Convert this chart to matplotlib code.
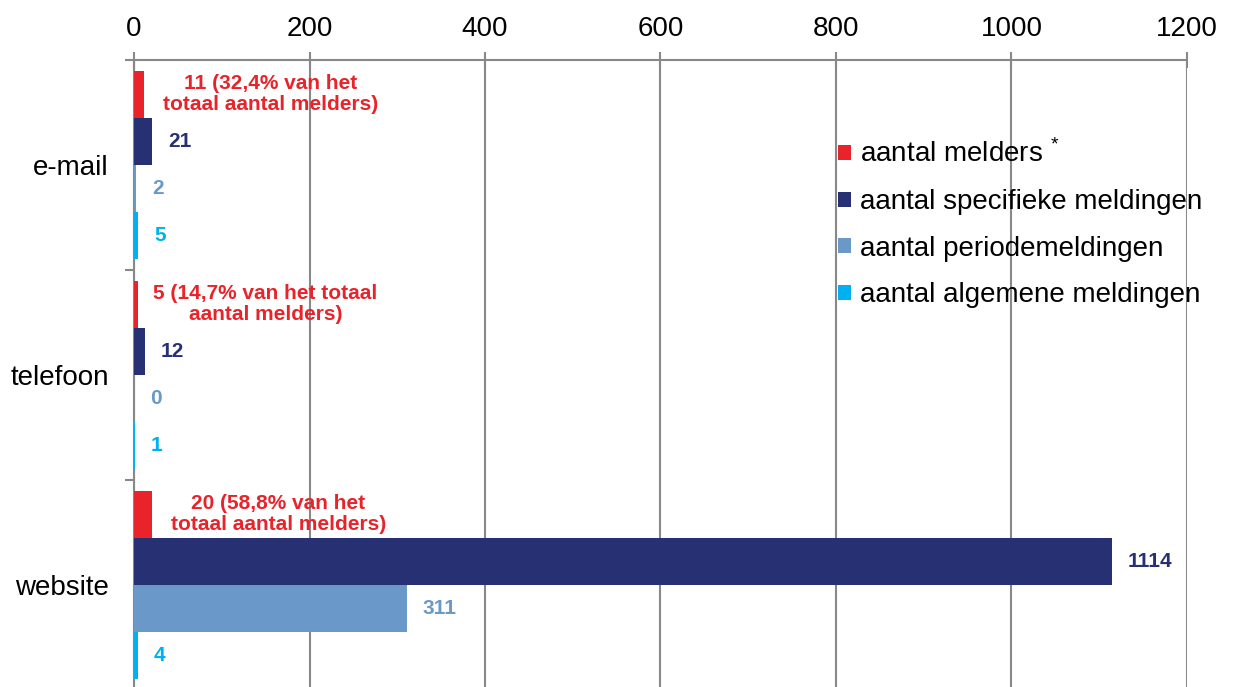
import numpy as np
import matplotlib.pyplot as plt

plt.rcParams['font.family'] = ['Liberation Sans', 'DejaVu Sans']
plt.rcParams['mathtext.fontset'] = 'custom'
plt.rcParams['mathtext.rm'] = 'Liberation Sans'

# gegevens
kanalen = ['e-mail', 'telefoon', 'website']
reeksen = ['aantal melders $^{*}$', 'aantal specifieke meldingen',
           'aantal periodemeldingen', 'aantal algemene meldingen']
melders = [11, 5, 20]
specifiek = [21, 12, 1114]
periode = [2, 0, 311]
algemeen = [5, 1, 4]
melders_tekst = ['11 (32,4% van het\ntotaal aantal melders)',
                 '5 (14,7% van het totaal\naantal melders)',
                 '20 (58,8% van het\ntotaal aantal melders)']
kleuren = ['#E8232A', '#283074', '#6A98C9', '#00B0F0']

fig = plt.figure(figsize=(12.33, 6.87), dpi=100)
ax = fig.add_axes([134 / 1233, -0.004, 1053 / 1233, 0.917])

y = np.arange(len(kanalen))
h = 0.224
waarden = [melders, specifiek, periode, algemeen]
staven = []
for i, (w, c) in enumerate(zip(waarden, kleuren)):
    b = ax.barh(y + (i - 1.5) * h, w, height=h, color=c, label=reeksen[i], zorder=3)
    staven.append(b)
    for k, v in enumerate(w):
        yy = y[k] + (i - 1.5) * h
        if i == 0:
            ax.annotate(melders_tekst[k], xy=(v, yy), xytext=(127, 0),
                        textcoords='offset pixels', ha='center', va='center',
                        color=c, fontsize=15, fontweight='bold', linespacing=1.15)
        else:
            ax.annotate(str(v), xy=(v, yy), xytext=(16, 0),
                        textcoords='offset pixels', ha='left', va='center',
                        color=c, fontsize=15, fontweight='bold')

ax.set_xlim(0, 1200)
ax.set_ylim(2.5, -0.5)
ax.xaxis.tick_top()
ax.set_xticks(np.arange(0, 1201, 200))
ax.tick_params(axis='x', which='major', labelsize=20, length=11.5, width=1.5,
               color='#888888', direction='inout', pad=7)
ax.set_yticks(y)
ax.set_yticklabels(kanalen)
ax.set_yticks([-0.5, 0.5, 1.5, 2.5], minor=True)
ax.tick_params(axis='y', which='major', length=0, labelsize=20, pad=18)
ax.tick_params(axis='y', which='minor', length=6.5, width=1.5, color='#888888')
ax.grid(axis='x', color='#888888', linewidth=1.5, zorder=0)

for s in ['right', 'bottom']:
    ax.spines[s].set_visible(False)
for s in ['top', 'left']:
    ax.spines[s].set_color('#888888')
    ax.spines[s].set_linewidth(1.5)

ax.legend(handles=staven, loc='upper left', bbox_to_anchor=(838 / 1233, 1 - 140 / 687),
          bbox_transform=fig.transFigure, frameon=False, fontsize=20,
          handlelength=0.47, handleheight=0.47, handletextpad=0.32, labelspacing=0.74,
          borderaxespad=0, borderpad=0)

fig.savefig('out.png', dpi=100)
